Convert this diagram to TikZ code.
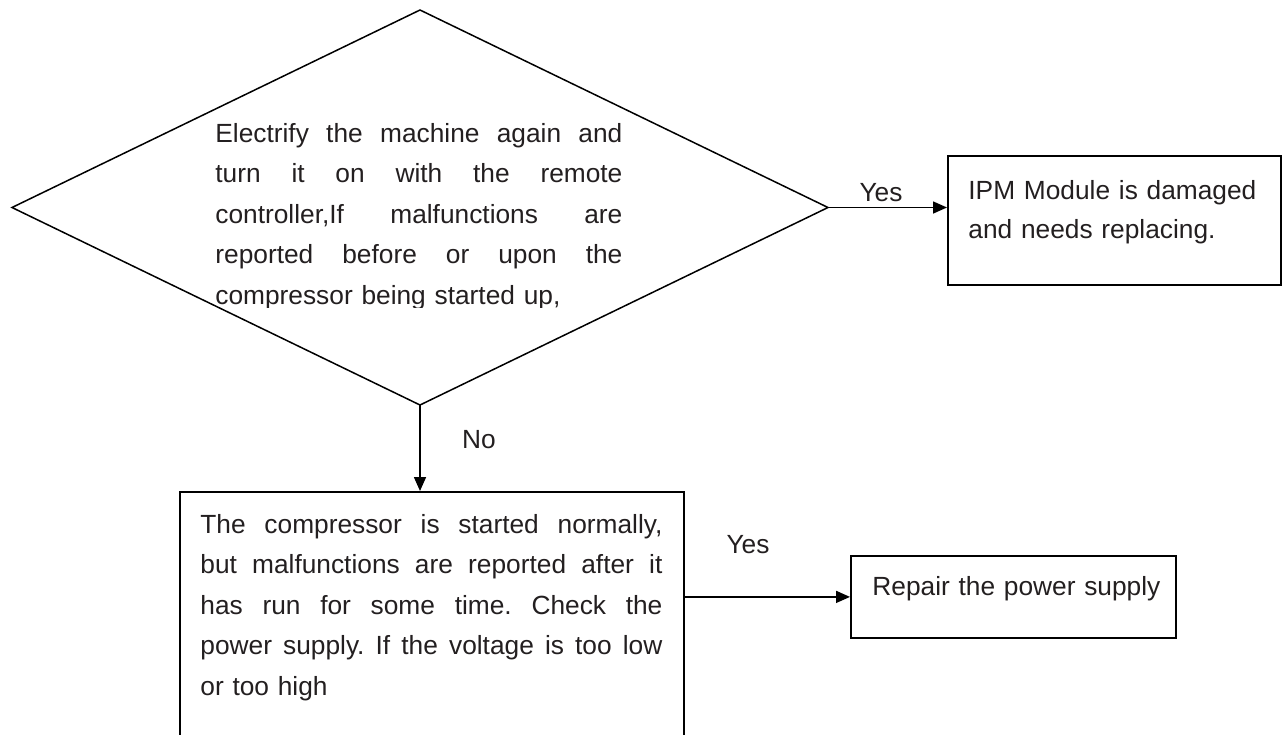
\documentclass[tikz,border=0pt]{standalone}
\usepackage{fontspec}
\setmainfont{Liberation Sans}
\usepackage{xcolor}
\usetikzlibrary{shapes.geometric, arrows.meta, calc}
\definecolor{flowText}{HTML}{231F20}
% one justified line of a given width
\newcommand{\jline}[2]{\leavevmode\hbox to #1{\spaceskip=0.278em plus 1fil\relax #2}}

\begin{document}
\frenchspacing
\begin{tikzpicture}[x=0.5pt, y=-0.5pt,
    box/.style={rectangle, draw=black, line width=0.9pt, inner sep=0pt, anchor=north west},
    txt/.style={inner sep=0pt, anchor=base west, text=flowText, align=left,
      font=\fontsize{13.15}{20.25}\selectfont},
    lbl/.style={inner sep=0pt, text=flowText, font=\fontsize{13.15}{15}\selectfont},
    conn/.style={-{Triangle[length=7pt, width=6pt]}, line width=0.8pt, black}
  ]
  \path[use as bounding box, clip] (0,0) rectangle (1284,734);

  % === Decision ===
  \node[diamond, draw=black, line width=0.75pt, inner sep=0pt, outer sep=0pt,
    minimum width=408pt, minimum height=197.5pt] (dia) at (420,207.5) {};
  \begin{scope}
    \clip (205,90) rectangle (632,307.5);
    \node[txt, text width=203.5pt] (diatxt) at (215,142) {%
      \jline{203.5pt}{Electrify the machine again and}\\
      \jline{203.5pt}{turn it on with the remote}\\
      \jline{203.5pt}{controller,If malfunctions are}\\
      \jline{203.5pt}{reported before or upon the}\\
      compressor being started up,};
  \end{scope}

  % === Yes: IPM ===
  \node[box, minimum width=166.5pt, minimum height=64.5pt] (ipm) at (947,155) {};
  \node[txt, text width=155pt, font=\fontsize{13.15}{19.5}\selectfont] (ipmtxt) at (968,199)
    {IPM Module is damaged\\and needs replacing.};
  \draw[conn] (dia.east) -- (dia.east -| ipm.west);
  \node[lbl] (yes1) at (881,193) {Yes};

  % === No: compressor ===
  \node[box, minimum width=252pt, minimum height=135pt] (comp) at (179,491) {};
  \node[txt, text width=231pt] (comptxt) at (200,533) {%
    \jline{231pt}{The compressor is started normally,}\\
    \jline{231pt}{but malfunctions are reported after it}\\
    \jline{231pt}{has run for some time. Check the}\\
    \jline{231pt}{power supply. If the voltage is too low}\\
    or too high};
  \draw[conn] (dia.south) -- (dia.south |- comp.north);
  \node[lbl] (no1) at (479,440) {No};

  % === Yes: power supply ===
  \node[box, minimum width=162.5pt, minimum height=41pt] (rep) at (850,555) {};
  \node[txt, text width=150pt] (reptxt) at (872,595) {Repair the power supply};
  \draw[conn] (rep.west -| comp.east) -- (rep.west);
  \node[lbl] (yes2) at (748,545) {Yes};
\end{tikzpicture}
\end{document}
